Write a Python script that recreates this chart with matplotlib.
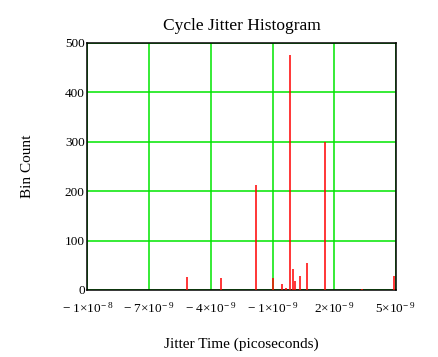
import matplotlib
matplotlib.use("Agg")
import matplotlib.pyplot as plt

plt.rcParams['font.family'] = ['Liberation Serif', 'DejaVu Serif']
plt.rcParams['mathtext.fontset'] = 'custom'
plt.rcParams['mathtext.rm'] = 'Liberation Serif'
plt.rcParams['mathtext.it'] = 'Liberation Serif:italic'

# histogram bins (seconds) and their counts
jitter_time = [-5.18e-9, -3.53e-9, -1.83e-9, -0.96e-9, -0.52e-9, -0.37e-9,
               -0.15e-9, -0.03e-9, 0.11e-9, 0.31e-9, 0.69e-9, 1.57e-9,
               3.33e-9, 4.92e-9]
bin_count = [26, 24, 212, 25, 12, 5, 475, 42, 19, 29, 54, 299, 2, 28]

x_ticks = [-1e-8, -7e-9, -4e-9, -1e-9, 2e-9, 5e-9]
x_tick_labels = [r'$-\ 1{\times}10^{-\ 8}$', r'$-\ 7{\times}10^{-\ 9}$',
                 r'$-\ 4{\times}10^{-\ 9}$', r'$-\ 1{\times}10^{-\ 9}$',
                 r'$2{\times}10^{-\ 9}$', r'$5{\times}10^{-\ 9}$']
y_ticks = [0, 100, 200, 300, 400, 500]

fig = plt.figure(figsize=(4.39, 3.57), dpi=100)
ax = fig.add_axes([0.1993, 0.1877, 0.7027, 0.6919])

ax.vlines(jitter_time, 0, bin_count, color='red', linewidth=1.1, zorder=3)

ax.set_xlim(-1e-8, 5e-9)
ax.set_ylim(0, 500)
ax.set_xticks(x_ticks)
ax.set_xticklabels(x_tick_labels, fontsize=9.5)
ax.set_yticks(y_ticks)
ax.set_yticklabels([str(v) for v in y_ticks], fontsize=9.5)
ax.tick_params(axis='x', length=0, pad=8)
ax.tick_params(axis='y', length=0, pad=2)
ax.grid(True, color='#00e600', linewidth=1.1)
ax.set_axisbelow(True)
for s in ax.spines.values():
    s.set_linewidth(1.1)

ax.set_title("Cycle Jitter Histogram", fontsize=12.5, pad=9)
ax.set_xlabel("Jitter Time (picoseconds)", fontsize=11, labelpad=16)
ax.set_ylabel("Bin Count", fontsize=11, labelpad=22)

fig.savefig("out.png", dpi=100)
